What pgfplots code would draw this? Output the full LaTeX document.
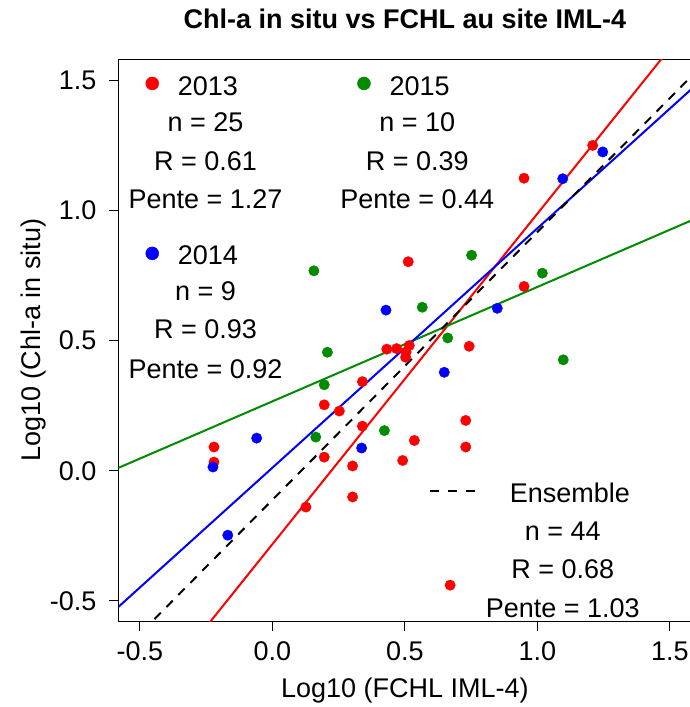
\documentclass[border=0pt]{standalone}
\usepackage{pgfplots}
\pgfplotsset{compat=1.18}
\usepackage{fontspec}
\setmainfont{Liberation Sans}
\definecolor{rred}{RGB}{255,0,0}
\definecolor{rblue}{RGB}{0,0,255}
\definecolor{rgreen}{RGB}{0,139,0}
\newcommand\fs{\fontsize{27}{32}\selectfont}
\begin{document}
\begin{tikzpicture}
\begin{axis}[
  name=ax, at={(0,0)}, anchor=south west,
  scale only axis, width=572.4pt, height=562pt,
  xmin=-0.58, xmax=1.58, ymin=-0.58, ymax=1.58,
  xtick={-0.5,0,0.5,1,1.5}, ytick={-0.5,0,0.5,1,1.5},
  xticklabels={-0.5,0.0,0.5,1.0,1.5}, yticklabels={-0.5,0.0,0.5,1.0,1.5},
  xtick pos=bottom, ytick pos=left,
  tick align=outside, major tick length=9.5pt,
  tick style={black, line width=1pt},
  axis line style={black, line width=1pt},
  /pgf/number format/assume math mode=true,
  ticklabel style={font=\fs, inner sep=0pt},
  xticklabel style={anchor=base, yshift=-29.9pt},
  yticklabel style={anchor=base east, xshift=-12.4pt, yshift=-9.7pt},
  clip=true,
]
% points
\addplot[only marks, mark=*, mark size=5.2pt, color=rred, mark options={draw=rred, fill=rred}] table {
0.513 0.802
1.209 1.249
0.950 1.123
0.950 0.707
0.743 0.477
0.432 0.466
0.469 0.468
0.503 0.435
0.517 0.480
0.505 0.455
0.340 0.341
0.196 0.252
0.253 0.228
0.340 0.170
-0.220 0.090
-0.220 0.032
0.196 0.051
0.303 0.017
0.492 0.038
0.303 -0.102
0.127 -0.141
0.730 0.192
0.536 0.115
0.730 0.090
0.671 -0.441
};
\addplot[only marks, mark=*, mark size=5.2pt, color=rblue, mark options={draw=rblue, fill=rblue}] table {
0.429 0.616
1.247 1.224
1.096 1.121
0.849 0.623
0.337 0.086
-0.059 0.124
-0.224 0.013
-0.168 -0.249
0.649 0.377
};
\addplot[only marks, mark=*, mark size=5.2pt, color=rgreen, mark options={draw=rgreen, fill=rgreen}] table {
0.157 0.767
0.752 0.827
1.019 0.758
0.566 0.627
0.662 0.509
0.208 0.454
0.196 0.329
0.164 0.128
0.423 0.153
1.098 0.425
};
% regression lines
\addplot[rred, line width=2pt] coordinates {(-0.58,-1.021) (1.58,1.723)};
\addplot[rgreen, line width=2pt] coordinates {(-0.58,0.010) (1.58,0.960)};
\addplot[rblue, line width=2pt] coordinates {(-0.58,-0.524) (1.58,1.464)};
\addplot[black, line width=2pt, dash pattern=on 9pt off 8pt] coordinates {(-0.58,-0.711) (1.58,1.513)};
% legend dots
\addplot[only marks, mark=*, mark size=6.5pt, color=rred, mark options={fill=rred}] coordinates {(-0.453,1.487)};
\addplot[only marks, mark=*, mark size=6.5pt, color=rgreen, mark options={fill=rgreen}] coordinates {(0.346,1.487)};
\addplot[only marks, mark=*, mark size=6.5pt, color=rblue, mark options={fill=rblue}] coordinates {(-0.453,0.834)};
\addplot[black, line width=2pt, dash pattern=on 9pt off 9pt] coordinates {(0.595,-0.081) (0.765,-0.081)};
% legend texts
\begin{scope}[every node/.style={font=\fs, anchor=base, inner sep=0pt}]
\node at (axis cs:-0.243,1.441) {2013};
\node at (axis cs:-0.252,1.304) {n = 25};
\node at (axis cs:-0.252,1.153) {R = 0.61};
\node at (axis cs:-0.252,1.006) {Pente = 1.27};
\node at (axis cs:0.556,1.441) {2015};
\node at (axis cs:0.547,1.304) {n = 10};
\node at (axis cs:0.547,1.153) {R = 0.39};
\node at (axis cs:0.547,1.006) {Pente = 0.44};
\node at (axis cs:-0.243,0.793) {2014};
\node at (axis cs:-0.252,0.652) {n = 9};
\node at (axis cs:-0.252,0.508) {R = 0.93};
\node at (axis cs:-0.252,0.354) {Pente = 0.92};
\node at (axis cs:1.123,-0.124) {Ensemble};
\node at (axis cs:1.096,-0.269) {n = 44};
\node at (axis cs:1.096,-0.416) {R = 0.68};
\node at (axis cs:1.096,-0.565) {Pente = 1.03};
\end{scope}
\end{axis}
\node[font=\bfseries\fs, anchor=base, inner sep=0pt] at (286.2pt,593pt) {Chl-a in situ vs FCHL au site IML-4};
\node[font=\fs, anchor=base, inner sep=0pt] at (286.2pt,-75.7pt) {Log10 (FCHL IML-4)};
\node[font=\fs, anchor=base, inner sep=0pt, rotate=90] at (-77.6pt,281pt) {Log10 (Chl-a in situ)};
\pgfresetboundingbox
\path[use as bounding box] (-118.6pt,-85.7pt) rectangle (570.4pt,621.3pt);
\end{tikzpicture}
\end{document}
